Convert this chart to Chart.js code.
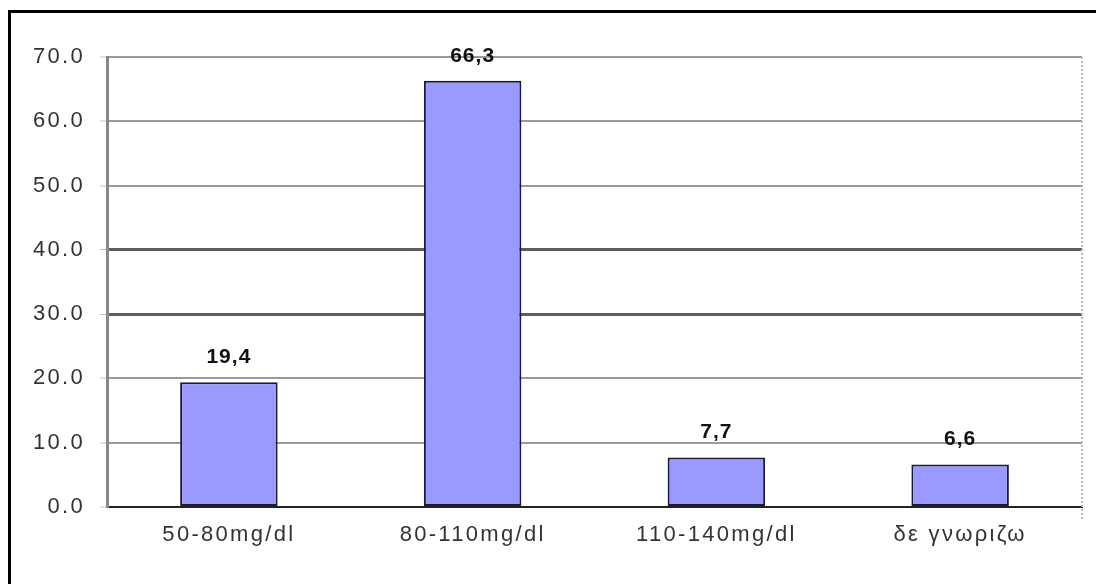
<!DOCTYPE html>
<html>
<head>
<meta charset="utf-8">
<script src="https://cdn.jsdelivr.net/npm/chart.js@4"></script>
<style>
  html, body { margin: 0; padding: 0; background: #fff; overflow: hidden; }
  .container { position: relative; width: 1096px; height: 584px; }
  .frame {
    position: absolute; left: 8px; top: 10px; width: 1200px; height: 700px;
    border-left: 3px solid #000; border-top: 3px solid #000;
  }
  canvas { position: absolute; left: 0; top: 0; }
</style>
</head>
<body>
<div class="container">
  <div class="frame"></div>
  <canvas id="glucose-chart" width="1096" height="584"></canvas>
</div>
<script>
const categories = ["50-80mg/dl", "80-110mg/dl", "110-140mg/dl", "δε γνωριζω"];
const percentages = [19.4, 66.3, 7.7, 6.6];
const yTicks = [0, 10, 20, 30, 40, 50, 60, 70];

let chart = document.getElementById("glucose-chart");

// comma as decimal mark, like the labels above the bars
function commaFormat(v){
    return v.toFixed(1).replace(".", ",");
}

const spacing = {
    id: "spacing",
    beforeDraw(c){
        c.ctx.letterSpacing = "2.3px";
    }
};

// value labels on top of each bar
const valueLabels = {
    id: "valueLabels",
    afterDatasetsDraw(c){
        const ctx = c.ctx;
        const meta = c.getDatasetMeta(0);
        ctx.save();
        ctx.letterSpacing = "1px";
        ctx.font = "bold 21px 'Liberation Sans', Arial";
        ctx.fillStyle = "#111";
        ctx.textAlign = "center";
        ctx.textBaseline = "middle";
        meta.data.forEach((bar, i) => {
            ctx.fillText(commaFormat(percentages[i]), bar.x, bar.y - 25);
        });
        ctx.restore();
    }
};

// dotted right edge of the plot area
const plotEdge = {
    id: "plotEdge",
    beforeDatasetsDraw(c){
        const a = c.chartArea;
        const ctx = c.ctx;
        ctx.save();
        ctx.strokeStyle = "#b8b8b8";
        ctx.lineWidth = 2;
        ctx.setLineDash([2, 2]);
        ctx.beginPath();
        ctx.moveTo(a.right, a.top);
        ctx.lineTo(a.right, a.bottom + 12);
        ctx.stroke();
        ctx.restore();
    }
};

new Chart(chart, {
    type: "bar",
    data: {
        labels: categories,
        datasets: [{
            data: percentages,
            backgroundColor: "#9999ff",
            borderColor: "#1a1a33",
            borderWidth: 2,
            borderSkipped: false,
            barPercentage: 0.4,
            categoryPercentage: 1
        }]
    },
    options: {
        responsive: false,
        animation: false,
        layout: {padding: {left: 0, top: 57, right: 14, bottom: 0}},
        plugins: {
            legend: {display: false},
            tooltip: {enabled: false}
        },
        scales: {
            x: {
                grid: {display: false, drawTicks: false},
                border: {color: "#222", width: 2},
                ticks: {
                    color: "#333",
                    padding: 15,
                    font: {family: "'Liberation Sans', Arial", size: 22}
                },
                afterFit(s){ s.height = 77; }
            },
            y: {
                min: 0,
                max: 70,
                afterBuildTicks(s){ s.ticks = yTicks.map(v => ({value: v})); },
                grid: {
                    color: (ctx) => (ctx.tick && (ctx.tick.value === 30 || ctx.tick.value === 40)) ? "#5e5e5e" : "#9a9a9a",
                    lineWidth: (ctx) => (ctx.tick && (ctx.tick.value === 30 || ctx.tick.value === 40)) ? 3 : 2,
                    tickLength: 7,
                    tickColor: "#c0c0c0",
                    tickWidth: 1
                },
                border: {color: "#888", width: 3},
                ticks: {
                    color: "#333",
                    padding: 15,
                    font: {family: "'Liberation Sans', Arial", size: 22},
                    callback: (v) => Number(v).toFixed(1)
                },
                afterFit(s){ s.width = 107; }
            }
        }
    },
    plugins: [spacing, valueLabels, plotEdge]
});
</script>
</body>
</html>
